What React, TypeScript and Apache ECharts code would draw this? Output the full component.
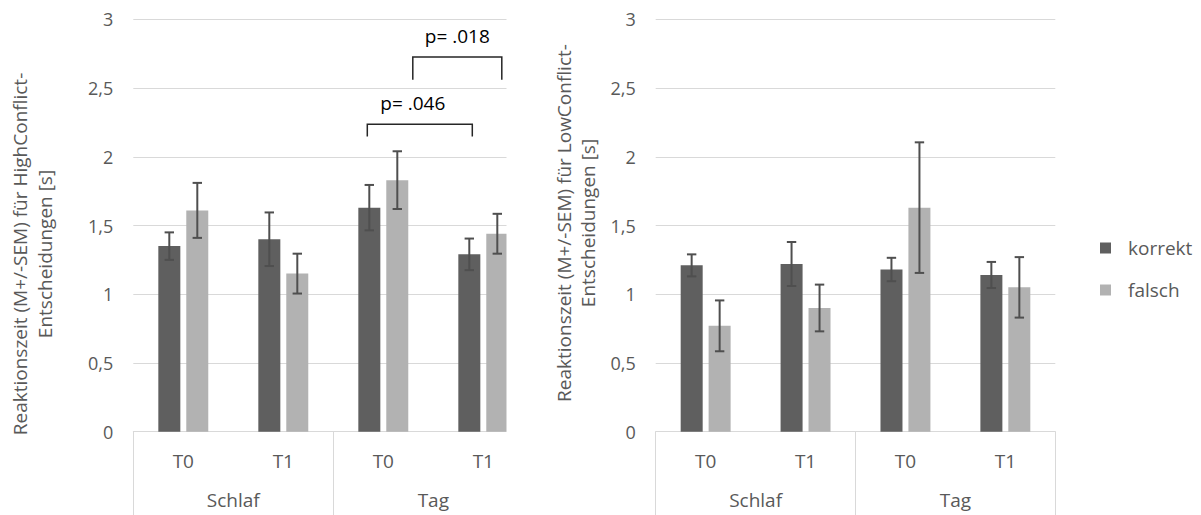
import React, { useEffect, useRef } from "react";
import * as echarts from "echarts";

// ---- data ----
const timeLabels = ["T0", "T1", "T0", "T1"];
const groupLabels = ["Schlaf", "Tag"];
const seriesNames = ["korrekt", "falsch"];

// HighConflict (left chart)
const highKorrekt = [1.35, 1.4, 1.63, 1.29];
const highKorrektSem = [0.1, 0.195, 0.165, 0.115];
const highFalsch = [1.61, 1.15, 1.83, 1.44];
const highFalschSem = [0.2, 0.145, 0.21, 0.145];

// LowConflict (right chart)
const lowKorrekt = [1.21, 1.22, 1.18, 1.14];
const lowKorrektSem = [0.08, 0.16, 0.085, 0.095];
const lowFalsch = [0.77, 0.9, 1.63, 1.05];
const lowFalschSem = [0.185, 0.17, 0.475, 0.22];

// significance brackets (left chart): category indices, bracket top value, leg end value
const bracketLabels = ["p= .046", "p= .018"];
const bracketFrom = [2, 2];
const bracketTo = [3, 3];
const bracketTop = [2.237, 2.725];
const bracketBottom = [2.147, 2.56];

const yTitleLeft = "Reaktionszeit (M+/-SEM) für HighConflict-\nEntscheidungen [s]";
const yTitleRight = "Reaktionszeit (M+/-SEM) für LowConflict-\nEntscheidungen [s]";

// ---- styles / layout ----
const FONT = "'Open Sans', sans-serif";
const DARK = "#5f5f5f";
const LIGHT = "#b2b2b2";
const ERR = "#4f4f4f";
const GRIDLINE = "#d9d9d9";
const TEXT = "#595959";
const BAR_W = 22;
const BAR_OFF = 14;
const bracketDx = [
  { from: -16, to: -11, text: -7 },
  { from: 29.5, to: 18.5, text: 0 },
];

function errData(vals: number[], sem: number[], off: number) {
  return vals.map((v, i) => [i, v - sem[i], v + sem[i], off]);
}

function errSeries(name: string, gridIdx: number, vals: number[], sem: number[], off: number) {
  return {
    type: "custom",
    name: name + "-err",
    xAxisIndex: gridIdx * 2,
    yAxisIndex: gridIdx,
    z: 5,
    silent: true,
    encode: { x: 0, y: [1, 2] },
    data: errData(vals, sem, off),
    renderItem: (_p: any, api: any) => {
      const cat = api.value(0);
      const lo = api.value(1);
      const hi = api.value(2);
      const dx = api.value(3);
      const pHi = api.coord([cat, hi]);
      const pLo = api.coord([cat, lo]);
      const x = pHi[0] + dx;
      const style = { stroke: ERR, lineWidth: 2 };
      return {
        type: "group",
        children: [
          { type: "line", shape: { x1: x, y1: pHi[1], x2: x, y2: pLo[1] }, style },
          { type: "line", shape: { x1: x - 4.7, y1: pHi[1], x2: x + 4.7, y2: pHi[1] }, style },
          { type: "line", shape: { x1: x - 4.7, y1: pLo[1], x2: x + 4.7, y2: pLo[1] }, style },
        ],
      };
    },
  };
}

function barSeries(name: string, gridIdx: number, vals: number[], color: string) {
  return {
    type: "bar",
    name,
    xAxisIndex: gridIdx * 2,
    yAxisIndex: gridIdx,
    data: vals,
    barWidth: BAR_W,
    barGap: "27%",
    itemStyle: { color },
    silent: true,
  };
}

export default function App() {
  const ref = useRef<HTMLDivElement>(null);

  useEffect(() => {
    if (!ref.current) return;
    const chart = echarts.init(ref.current, undefined, { renderer: "svg" });

    const grids = [
      { left: 133.3, top: 19.3, width: 400, height: 412.4 },
      { left: 655.7, top: 19.3, width: 399.6, height: 412.4 },
    ];

    const xAxes: any[] = [];
    const yAxes: any[] = [];
    [0, 1].forEach((g) => {
      xAxes.push({
        type: "category",
        gridIndex: g,
        data: timeLabels,
        axisLine: { show: true, lineStyle: { color: GRIDLINE, width: 1 } },
        axisTick: { show: false },
        axisLabel: { interval: 0, margin: 20, fontFamily: FONT, fontSize: 19, color: TEXT },
      });
      xAxes.push({
        type: "category",
        gridIndex: g,
        position: "bottom",
        data: groupLabels,
        axisLine: { show: false },
        axisTick: { show: true, interval: 0, length: 84, lineStyle: { color: GRIDLINE, width: 1 } },
        axisLabel: { interval: 0, margin: 59, fontFamily: FONT, fontSize: 19, color: TEXT },
      });
      yAxes.push({
        type: "value",
        gridIndex: g,
        min: 0,
        max: 3,
        interval: 0.5,
        axisLine: { show: false },
        axisTick: { show: false },
        splitLine: { lineStyle: { color: GRIDLINE, width: 1 } },
        axisLabel: {
          margin: 20,
          fontFamily: FONT,
          fontSize: 18,
          color: TEXT,
          formatter: (v: number) => String(v).replace(".", ","),
        },
      });
    });

    const bracketData = bracketLabels.map((_, i) => [
      bracketFrom[i],
      bracketTo[i],
      bracketTop[i],
      bracketBottom[i],
      i,
    ]);

    const bracketSeries = {
      type: "custom",
      name: "brackets",
      xAxisIndex: 0,
      yAxisIndex: 0,
      z: 6,
      silent: true,
      encode: { x: [0, 1], y: [2, 3] },
      data: bracketData,
      renderItem: (_p: any, api: any) => {
        const from = api.value(0);
        const to = api.value(1);
        const top = api.value(2);
        const bottom = api.value(3);
        const idx = api.value(4);
        const d = bracketDx[idx];
        const a = api.coord([from, top]);
        const b = api.coord([to, top]);
        const c = api.coord([from, bottom]);
        const x1 = a[0] + d.from;
        const x2 = b[0] + d.to;
        return {
          type: "group",
          children: [
            {
              type: "polyline",
              shape: { points: [[x1, c[1]], [x1, a[1]], [x2, a[1]], [x2, c[1]]] },
              style: { stroke: "#262626", lineWidth: 1.5, fill: "none" },
            },
            {
              type: "text",
              x: (x1 + x2) / 2 + d.text,
              y: a[1] - 21,
              style: {
                text: bracketLabels[idx],
                fontFamily: FONT,
                fontSize: 19,
                fill: "#000",
                align: "center",
                verticalAlign: "middle",
              },
            },
          ],
        };
      },
    };

    chart.setOption({
      animation: false,
      backgroundColor: "#fff",
      grid: grids,
      xAxis: xAxes,
      yAxis: yAxes,
      legend: {
        data: seriesNames,
        orient: "vertical",
        left: 1095,
        top: 232,
        itemWidth: 11,
        itemHeight: 11,
        itemGap: 20,
        icon: "rect",
        selectedMode: false,
        textStyle: {
          fontFamily: FONT,
          fontSize: 19,
          color: TEXT,
          lineHeight: 22,
          padding: [0, 0, 0, 12],
        },
      },
      series: [
        barSeries(seriesNames[0], 0, highKorrekt, DARK),
        barSeries(seriesNames[1], 0, highFalsch, LIGHT),
        barSeries(seriesNames[0], 1, lowKorrekt, DARK),
        barSeries(seriesNames[1], 1, lowFalsch, LIGHT),
        errSeries("korrekt-high", 0, highKorrekt, highKorrektSem, -BAR_OFF),
        errSeries("falsch-high", 0, highFalsch, highFalschSem, BAR_OFF),
        errSeries("korrekt-low", 1, lowKorrekt, lowKorrektSem, -BAR_OFF),
        errSeries("falsch-low", 1, lowFalsch, lowFalschSem, BAR_OFF),
        bracketSeries,
      ],
      graphic: [
        {
          type: "rect",
          z: 100,
          shape: { x: 506.5, y: 0, width: 42, height: 515 },
          style: { fill: "#fff" },
          silent: true,
        },
        {
          type: "text",
          z: 101,
          x: 32.5,
          y: 254,
          rotation: Math.PI / 2,
          style: {
            text: yTitleLeft,
            fontFamily: FONT,
            fontSize: 19,
            lineHeight: 25,
            fill: TEXT,
            align: "center",
            verticalAlign: "middle",
          },
        },
        {
          type: "text",
          z: 101,
          x: 575.5,
          y: 223,
          rotation: Math.PI / 2,
          style: {
            text: yTitleRight,
            fontFamily: FONT,
            fontSize: 19,
            lineHeight: 24,
            fill: TEXT,
            align: "center",
            verticalAlign: "middle",
          },
        },
      ],
    });

    return () => chart.dispose();
  }, []);

  return (
    <div
      ref={ref}
      style={{ position: "fixed", left: 0, top: 0, width: 1201, height: 515, background: "#fff" }}
    />
  );
}
